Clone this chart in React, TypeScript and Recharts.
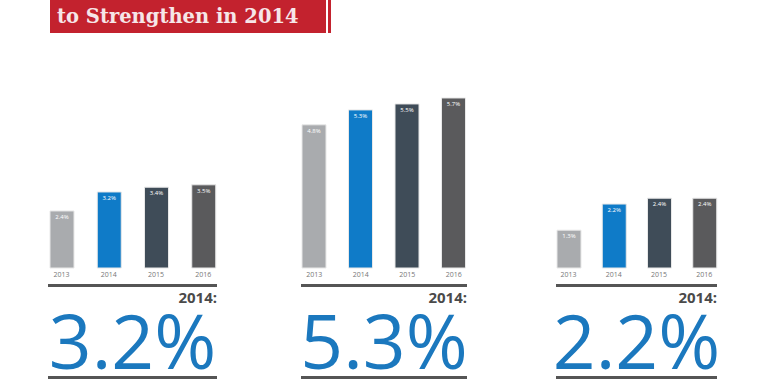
import * as React from 'react'
import { Bar, BarChart, Cell, LabelList, XAxis, YAxis } from 'recharts'

const years = ['2013', '2014', '2015', '2016']
const groupA = [2.4, 3.2, 3.4, 3.5]
const groupB = [4.8, 5.3, 5.5, 5.7]
const groupC = [1.3, 2.2, 2.4, 2.4]
const headline = ['3.2%', '5.3%', '2.2%']

const barColors = ['#a9abae', '#0f7bc8', '#3f4c58', '#5a5a5c']
const blue = '#1b78be'

interface PanelProps {
  values: number[]
  max: number
  left: number
  width: number
  big: string
}

function Panel({ values, max, left, width, big }: PanelProps) {
  const data = years.map((year, i) => ({ year, value: values[i] }))
  return (
    <>
      <div style={{ position: 'absolute', left, top: 85 }}>
        <BarChart width={width} height={199} data={data} margin={{ top: 10, right: 0, bottom: 0, left: 0 }}>
          <YAxis hide domain={[0, max]} />
          <XAxis
            dataKey="year"
            height={16}
            axisLine={false}
            tickLine={false}
            tickSize={0}
            tickMargin={4}
            tick={{ fontSize: 7, fill: '#777', fontFamily: 'Open Sans' }}
            interval={0}
          />
          <Bar dataKey="value" barSize={24} isAnimationActive={false} stroke="#e8e8e8" strokeWidth={1}>
            {data.map((d, i) => (
              <Cell key={d.year} fill={barColors[i]} />
            ))}
            <LabelList
              dataKey="value"
              position="insideTop"
              offset={4}
              fill="#fff"
              fontSize={6}
              fontFamily="Open Sans"
              formatter={(v: number) => v.toFixed(1) + '%'}
            />
          </Bar>
        </BarChart>
      </div>
      <div style={{ position: 'absolute', left: left + 10, top: 284, width: width - 20, height: 3, background: '#555' }} />
      <div
        style={{
          position: 'absolute',
          left: left + 10,
          top: 288,
          width: width - 20,
          textAlign: 'right',
          fontFamily: 'Open Sans',
          fontWeight: 700,
          fontSize: 15,
          color: '#4a4a4a',
          lineHeight: '18px',
        }}
      >
        2014:
      </div>
      <div
        style={{
          position: 'absolute',
          left: left + 6,
          top: 309,
          width: width - 12,
          textAlign: 'center',
          fontFamily: 'Open Sans',
          fontSize: 75,
          lineHeight: '62px',
          color: blue,
        }}
      >
        {big}
      </div>
      <div style={{ position: 'absolute', left: left + 10, top: 376, width: width - 20, height: 3, background: '#555' }} />
    </>
  )
}

export default function App() {
  return (
    <div style={{ position: 'fixed', left: 0, top: 0, width: 770, height: 380, background: '#fff', overflow: 'hidden' }}>
      <div style={{ position: 'absolute', left: 50, top: 0, width: 276, height: 33, background: '#c3222e' }} />
      <div style={{ position: 'absolute', left: 328, top: 0, width: 3, height: 33, background: '#c3222e' }} />
      <div
        style={{
          position: 'absolute',
          left: 57,
          top: 4,
          fontFamily: 'DejaVu Serif',
          fontWeight: 700,
          fontSize: 19.5,
          color: '#f6e6e8',
          lineHeight: '26px',
        }}
      >
        to Strengthen in 2014
      </div>
      <Panel values={groupA} max={7.28} left={38} width={189} big={headline[0]} />
      <Panel values={groupB} max={5.8} left={291} width={186} big={headline[1]} />
      <Panel values={groupC} max={5.95} left={546} width={181} big={headline[2]} />
    </div>
  )
}
